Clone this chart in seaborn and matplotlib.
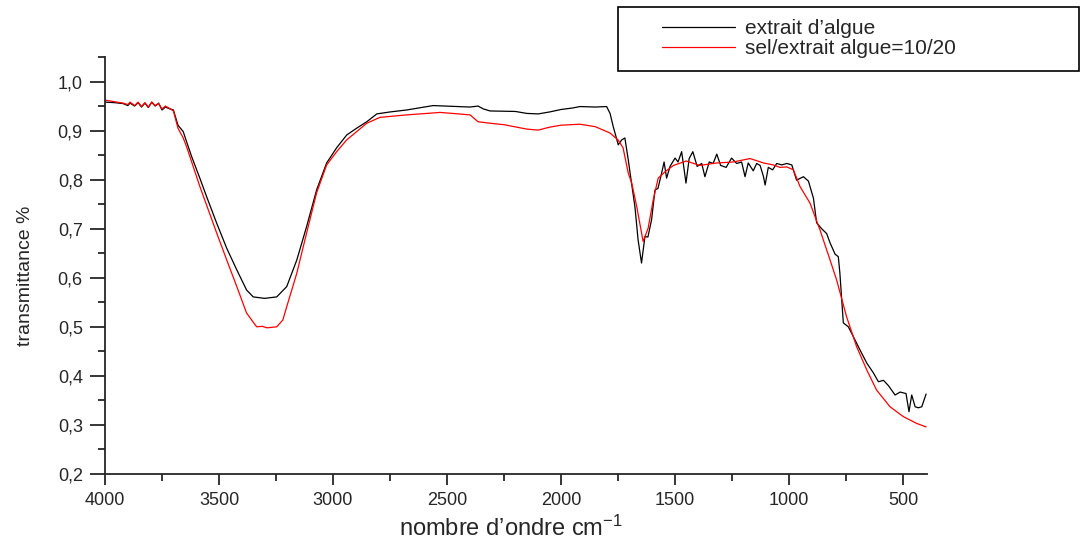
import numpy as np
import pandas as pd
import matplotlib
matplotlib.use("Agg")
import matplotlib.pyplot as plt
import matplotlib.patches as mpatches
from matplotlib.ticker import MultipleLocator, FuncFormatter
import seaborn as sns

# ========================
# DATA
# ========================
SERIES_A = "extrait d\u2019algue"
SERIES_B = "sel/extrait algue=10/20"

wn_a = [4000, 3960, 3920, 3900, 3890, 3870, 3855, 3840, 3825, 3810, 3795, 3780,
        3765, 3750, 3735, 3720, 3700, 3680, 3657, 3642, 3620, 3584, 3554, 3510,
        3466, 3422, 3379, 3350, 3300, 3247, 3203, 3159, 3116, 3072, 3028, 2984,
        2940, 2896, 2852, 2808, 2750, 2677, 2561, 2450, 2399, 2364, 2340, 2311,
        2200, 2150, 2100, 2050, 2000, 1950, 1917, 1850, 1800, 1785, 1771, 1749,
        1734, 1720, 1705, 1697, 1676, 1662, 1647, 1632, 1619, 1603, 1588, 1575,
        1559, 1548, 1537, 1522, 1500, 1487, 1471, 1452, 1438, 1422, 1403, 1383,
        1369, 1350, 1333, 1317, 1300, 1276, 1252, 1230, 1208, 1193, 1179, 1157,
        1142, 1127, 1112, 1105, 1091, 1072, 1054, 1032, 1010, 988, 967, 937,
        915, 893, 879, 857, 835, 820, 798, 784, 777, 762, 740, 718, 689, 659,
        630, 608, 586, 564, 535, 513, 487, 474, 462, 447, 433, 418, 399]
t_a = [0.958, 0.957, 0.955, 0.951, 0.956, 0.950, 0.957, 0.948, 0.956, 0.947, 0.958, 0.950,
       0.956, 0.942, 0.948, 0.945, 0.942, 0.911, 0.898, 0.877, 0.847, 0.803, 0.765, 0.711,
       0.660, 0.616, 0.575, 0.561, 0.558, 0.561, 0.582, 0.636, 0.704, 0.779, 0.834, 0.865,
       0.891, 0.905, 0.918, 0.934, 0.938, 0.942, 0.951, 0.949, 0.948, 0.950, 0.944, 0.940,
       0.939, 0.935, 0.934, 0.938, 0.943, 0.946, 0.949, 0.948, 0.949, 0.935, 0.908, 0.871,
       0.881, 0.885, 0.840, 0.813, 0.745, 0.677, 0.630, 0.684, 0.683, 0.718, 0.779, 0.782,
       0.813, 0.836, 0.803, 0.827, 0.844, 0.836, 0.857, 0.793, 0.843, 0.857, 0.827, 0.833,
       0.806, 0.836, 0.833, 0.852, 0.829, 0.825, 0.844, 0.833, 0.836, 0.806, 0.834, 0.818,
       0.833, 0.829, 0.806, 0.789, 0.825, 0.820, 0.833, 0.830, 0.833, 0.830, 0.799, 0.806,
       0.797, 0.762, 0.712, 0.700, 0.690, 0.671, 0.648, 0.643, 0.609, 0.508, 0.500, 0.480,
       0.453, 0.426, 0.406, 0.388, 0.391, 0.380, 0.361, 0.367, 0.364, 0.327, 0.361, 0.337,
       0.335, 0.337, 0.363]

wn_b = [4000, 3960, 3920, 3900, 3890, 3870, 3855, 3840, 3825, 3810, 3795, 3780,
        3765, 3750, 3735, 3720, 3700, 3680, 3657, 3642, 3584, 3510, 3466, 3422,
        3379, 3335, 3310, 3290, 3247, 3220, 3203, 3159, 3116, 3072, 3028, 2984,
        2940, 2896, 2852, 2794, 2677, 2530, 2450, 2399, 2364, 2311, 2250, 2150,
        2100, 2050, 2000, 1917, 1850, 1785, 1750, 1728, 1705, 1690, 1668, 1640,
        1618, 1596, 1574, 1544, 1507, 1451, 1392, 1317, 1245, 1171, 1112, 1069,
        1040, 1010, 981, 952, 908, 864, 820, 791, 748, 704, 659, 616, 557, 499,
        440, 399]
t_b = [0.962, 0.959, 0.956, 0.953, 0.958, 0.951, 0.958, 0.949, 0.957, 0.948, 0.958, 0.951,
       0.955, 0.944, 0.950, 0.946, 0.940, 0.905, 0.885, 0.867, 0.786, 0.691, 0.636, 0.582,
       0.528, 0.500, 0.501, 0.498, 0.500, 0.514, 0.541, 0.609, 0.691, 0.773, 0.830, 0.857,
       0.881, 0.898, 0.915, 0.927, 0.932, 0.937, 0.934, 0.932, 0.918, 0.915, 0.912, 0.903,
       0.901, 0.907, 0.911, 0.913, 0.908, 0.895, 0.881, 0.865, 0.813, 0.793, 0.745, 0.674,
       0.701, 0.758, 0.803, 0.816, 0.829, 0.838, 0.829, 0.834, 0.836, 0.843, 0.834, 0.830,
       0.825, 0.826, 0.820, 0.786, 0.752, 0.697, 0.636, 0.595, 0.521, 0.460, 0.412, 0.371,
       0.337, 0.317, 0.303, 0.296]

x_major = [4000, 3500, 3000, 2500, 2000, 1500, 1000, 500]
y_major = [0.2, 0.3, 0.4, 0.5, 0.6, 0.7, 0.8, 0.9, 1.0]

# ========================
# STYLE
# ========================
sns.set_style("ticks")
plt.rcParams["font.family"] = ["Liberation Sans", "DejaVu Sans"]
plt.rcParams["mathtext.fontset"] = "custom"
plt.rcParams["mathtext.rm"] = "Liberation Sans"
plt.rcParams["mathtext.it"] = "Liberation Sans:italic"

df = pd.concat([
    pd.DataFrame({"wn": wn_a, "T": t_a, "serie": SERIES_A}),
    pd.DataFrame({"wn": wn_b, "T": t_b, "serie": SERIES_B}),
], ignore_index=True)

fig = plt.figure(figsize=(10.81, 5.43), dpi=100)
ax = fig.add_axes([105 / 1081, 1 - 474 / 543, 822 / 1081, 417 / 543])

sns.lineplot(data=df, x="wn", y="T", hue="serie", estimator=None, sort=False,
             palette={SERIES_A: "black", SERIES_B: "#ff0000"},
             linewidth=0.9, legend=False, ax=ax)

ax.set_xlim(4000, 395)
ax.set_ylim(0.2, 1.05)
ax.set_xticks(x_major)
ax.set_yticks(y_major)
ax.xaxis.set_minor_locator(MultipleLocator(250))
ax.yaxis.set_minor_locator(MultipleLocator(0.05))
ax.yaxis.set_major_formatter(FuncFormatter(lambda v, p: f"{v:.1f}".replace(".", ",")))

sns.despine(ax=ax)
for s in ["left", "bottom"]:
    ax.spines[s].set_linewidth(1.3)
ax.tick_params(which="major", length=8, width=1.3, labelsize=13, pad=5)
ax.tick_params(which="minor", length=5, width=1.3)
ax.tick_params(axis="y", which="major", length=11)

ax.set_xlabel("nombre d\u2019ondre cm$^{\\mathregular{-1}}$", fontsize=17)
ax.set_ylabel("transmittance %", fontsize=14)
ax.xaxis.set_label_coords(0.494, -0.1)
ax.yaxis.set_label_coords(-0.086, 0.475)

# legend box, outside the axes at the top right
lines = ax.get_lines()
fig.legend(lines[:2], [SERIES_A, SERIES_B], loc="upper left",
           bbox_to_anchor=(662 / 1081, 1 - 19 / 543), frameon=False,
           fontsize=15, handlelength=3.5, handletextpad=0.5,
           labelspacing=0.05, borderaxespad=0, borderpad=0)
fig.add_artist(mpatches.Rectangle((618 / 1081, 1 - 71 / 543), 461 / 1081, 64 / 543,
                                  transform=fig.transFigure, fill=False,
                                  edgecolor="black", linewidth=1.2))

fig.savefig("out.png", dpi=100)
